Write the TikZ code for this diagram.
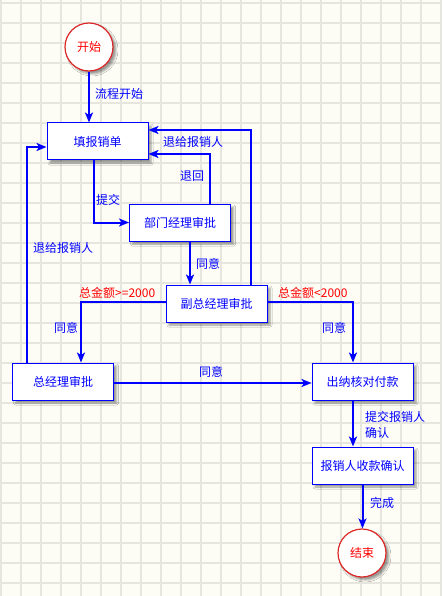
\documentclass[tikz,border=0pt]{standalone}
\usepackage{fontspec}
\setmainfont{Noto Sans CJK SC}
\usetikzlibrary{arrows.meta,shadows.blur}
\definecolor{flowblue}{RGB}{0,0,255}
\definecolor{paper}{RGB}{253,253,246}
\definecolor{gridgray}{RGB}{230,230,222}
\definecolor{ringred}{RGB}{220,40,40}

\begin{document}
\begin{tikzpicture}[x=1pt,y=-1pt]
		\tikzstyle{es} = [-{Stealth[length=10pt,width=8pt,inset=2.5pt]}, draw=flowblue, line width=2pt]
		\tikzstyle{box} = [draw=flowblue, fill=white, line width=1pt, minimum width=101pt, minimum height=37pt, text=flowblue, font=\fontsize{12}{14}\selectfont, blur shadow={shadow xshift=3pt, shadow yshift=-3pt, shadow blur radius=2pt, shadow opacity=40}]
		\tikzstyle{terminal} = [circle, draw=ringred, fill=white, line width=1.2pt, minimum size=48pt, inner sep=0, text=red, font=\fontsize{12}{14}\selectfont, blur shadow={shadow xshift=3pt, shadow yshift=-3pt, shadow blur radius=2pt, shadow opacity=40}]
		\tikzstyle{lbl} = [text=flowblue, anchor=west, inner sep=0, font=\fontsize{12}{14}\selectfont]
		\tikzstyle{cond} = [text=red, anchor=west, inner sep=0, font=\fontsize{12}{14}\selectfont]
		% paper with grid
		\fill [paper] (0,0) rectangle (442,596);
		\useasboundingbox (0,0) rectangle (442,596);
		\foreach \i in {0,...,22} \draw [gridgray, line width=1.5pt] (1+20*\i,0) -- (1+20*\i,596);
		\foreach \j in {0,...,29} \draw [gridgray, line width=1.5pt] (0,3+20*\j) -- (442,3+20*\j);
		% nodes
		\node [terminal] (start) at (89,47) {开始};
		\node [box] (fill) at (97.5,141.5) {填报销单};
		\node [box] (dept) at (180,222.5) {部门经理审批};
		\node [box] (vice) at (216.5,303.5) {副总经理审批};
		\node [box] (gm) at (63,381.5) {总经理审批};
		\node [box] (cashier) at (362.5,381.5) {出纳核对付款};
		\node [box] (confirm) at (362.5,465.5) {报销人收款确认};
		\node [terminal] (end) at (362,553) {结束};
		% connectors
		\draw [es] (start.south) -- (start.south |- fill.north);
		\draw [es] ([xshift=-3.5pt]fill.south) |- (dept.west);
		\draw [es] ([xshift=30pt]dept.north) |- ([yshift=-12.5pt]fill.east);
		\draw [es] ([xshift=34.5pt]vice.north) |- ([yshift=11.5pt]fill.east);
		\draw [es] ([xshift=10pt]dept.south) -- ([xshift=10pt]dept.south |- vice.north);
		\draw [es] ([yshift=1.5pt]vice.west) -| ([xshift=18pt]gm.north);
		\draw [es] ([yshift=1.5pt]vice.east) -| ([xshift=-9.5pt]cashier.north);
		\draw [es] ([yshift=-1.5pt]gm.east) -- ([yshift=-1.5pt]cashier.west);
		\draw [es] ([xshift=-36pt]gm.north) |- ([yshift=-5.5pt]fill.west);
		\draw [es] ([xshift=-9.5pt]cashier.south) -- ([xshift=-9.5pt]confirm.north);
		\draw [es] (confirm.south) -- (confirm.south |- end.north);
		% labels
		\node [lbl] (lstart) at (95,94) {流程开始};
		\node [lbl] (lsubmit) at (96,200) {提交};
		\node [lbl] (lback) at (180,176) {退回};
		\node [lbl] (lagree1) at (196,264) {同意};
		\node [lbl] (lreturn1) at (163,142) {退给报销人};
		\node [cond] (lhigh) at (79,293) {总金额>=2000};
		\node [cond] (llow) at (278,293) {总金额<2000};
		\node [lbl] (lagree2) at (54,328) {同意};
		\node [lbl] (lagree3) at (322,328) {同意};
		\node [lbl] (lagree4) at (199,372) {同意};
		\node [lbl] (lreturn2) at (33,248) {退给报销人};
		\node [lbl, align=left, font=\fontsize{12}{16}\selectfont] (lpass) at (365,425) {提交报销人\\确认};
		\node [lbl] (ldone) at (370,503) {完成};
		\end{tikzpicture}
\end{document}
